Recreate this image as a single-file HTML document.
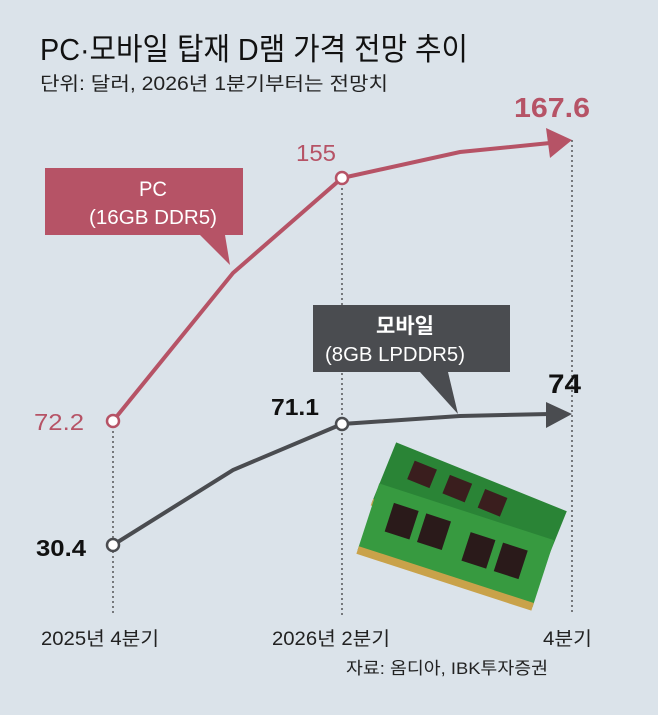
<!DOCTYPE html>
<html><head><meta charset="utf-8"><style>
body{margin:0;background:#dbe3ea;}
svg{display:block;font-family:"Liberation Sans","Noto Sans CJK KR",sans-serif;}
</style></head><body>
<svg width="658" height="715" viewBox="0 0 658 715">
<rect width="658" height="715" fill="#dbe3ea"/>
<text x="40" y="60" font-size="31" fill="#111" textLength="428" lengthAdjust="spacingAndGlyphs">PC·모바일 탑재 D램 가격 전망 추이</text>
<text x="40" y="90" font-size="19" fill="#222" textLength="348" lengthAdjust="spacingAndGlyphs">단위: 달러, 2026년 1분기부터는 전망치</text>
<g stroke="#333" stroke-width="1.2" stroke-dasharray="2,3">
<line x1="113" y1="421" x2="113" y2="615"/><line x1="342" y1="178" x2="342" y2="615"/><line x1="572" y1="140" x2="572" y2="615"/>
</g>
<!-- RAM image -->
<g transform="translate(462,525) rotate(22)">
<rect x="-92" y="-52" width="184" height="66" fill="#2a8436"/>
<rect x="-92" y="9" width="184" height="7" fill="#c9a24a"/>
<rect x="-68" y="-42" width="24" height="20" fill="#3a1e1e"/><rect x="-30" y="-42" width="24" height="20" fill="#3a1e1e"/><rect x="8" y="-42" width="24" height="20" fill="#3a1e1e"/>
</g>
<g transform="translate(455,548) rotate(18)">
<rect x="-92" y="-38" width="184" height="70" fill="#379a40"/>
<rect x="-92" y="28" width="184" height="8" fill="#c9a24a"/>
<rect x="-72" y="-24" width="26" height="30" fill="#2a1a1a"/><rect x="-38" y="-24" width="26" height="30" fill="#2a1a1a"/><rect x="10" y="-20" width="26" height="30" fill="#2a1a1a"/><rect x="44" y="-20" width="26" height="30" fill="#2a1a1a"/>
</g>
<!-- PC line -->
<polyline points="113,421 233,273 342,178 460,152 550,143" fill="none" stroke="#b65366" stroke-width="4"/>
<polygon points="572,140 546,128 550,158" fill="#b65366"/>
<circle cx="113" cy="421" r="6" fill="#fff" stroke="#b65366" stroke-width="2.5"/>
<circle cx="342" cy="178" r="6" fill="#fff" stroke="#b65366" stroke-width="2.5"/>
<!-- Mobile line -->
<polyline points="113,545 233,470 342,424 460,416 550,414" fill="none" stroke="#4a4c50" stroke-width="4"/>
<polygon points="572,414 546,402 546,428" fill="#4a4c50"/>
<circle cx="113" cy="545" r="6" fill="#fff" stroke="#4a4c50" stroke-width="2.5"/>
<circle cx="342" cy="424" r="6" fill="#fff" stroke="#4a4c50" stroke-width="2.5"/>
<!-- callouts -->
<polygon points="45,168 243,168 243,235 225,235 230,265 200,235 45,235" fill="#b65366"/>
<text x="153" y="196" font-size="21" fill="#fff" text-anchor="middle" textLength="28" lengthAdjust="spacingAndGlyphs">PC</text>
<text x="153" y="224" font-size="20" fill="#fff" text-anchor="middle" textLength="128" lengthAdjust="spacingAndGlyphs">(16GB DDR5)</text>
<polygon points="313,305 510,305 510,372 448,372 458,414 420,372 313,372" fill="#4a4c50"/>
<text x="405" y="333" font-size="21" font-weight="bold" fill="#fff" text-anchor="middle">모바일</text>
<text x="395" y="361" font-size="20" fill="#fff" text-anchor="middle" textLength="140" lengthAdjust="spacingAndGlyphs">(8GB LPDDR5)</text>
<!-- values -->
<text x="514" y="117" font-size="28" font-weight="bold" fill="#b65366" textLength="76" lengthAdjust="spacingAndGlyphs">167.6</text>
<text x="296" y="161" font-size="23" fill="#b65366" textLength="40" lengthAdjust="spacingAndGlyphs">155</text>
<text x="34" y="430" font-size="23" fill="#b65366" textLength="50" lengthAdjust="spacingAndGlyphs">72.2</text>
<text x="271" y="415" font-size="23" font-weight="bold" fill="#111" textLength="48" lengthAdjust="spacingAndGlyphs">71.1</text>
<text x="548" y="393" font-size="27" font-weight="bold" fill="#111" textLength="33" lengthAdjust="spacingAndGlyphs">74</text>
<text x="36" y="556" font-size="23" font-weight="bold" fill="#111" textLength="50" lengthAdjust="spacingAndGlyphs">30.4</text>
<!-- axis labels -->
<text x="41" y="645" font-size="19" fill="#222" textLength="118" lengthAdjust="spacingAndGlyphs">2025년 4분기</text>
<text x="272" y="645" font-size="19" fill="#222" textLength="118" lengthAdjust="spacingAndGlyphs">2026년 2분기</text>
<text x="543" y="645" font-size="19" fill="#222" textLength="49" lengthAdjust="spacingAndGlyphs">4분기</text>
<text x="346" y="674" font-size="17" fill="#222" textLength="202" lengthAdjust="spacingAndGlyphs">자료: 옴디아, IBK투자증권</text>
</svg>
</body></html>
